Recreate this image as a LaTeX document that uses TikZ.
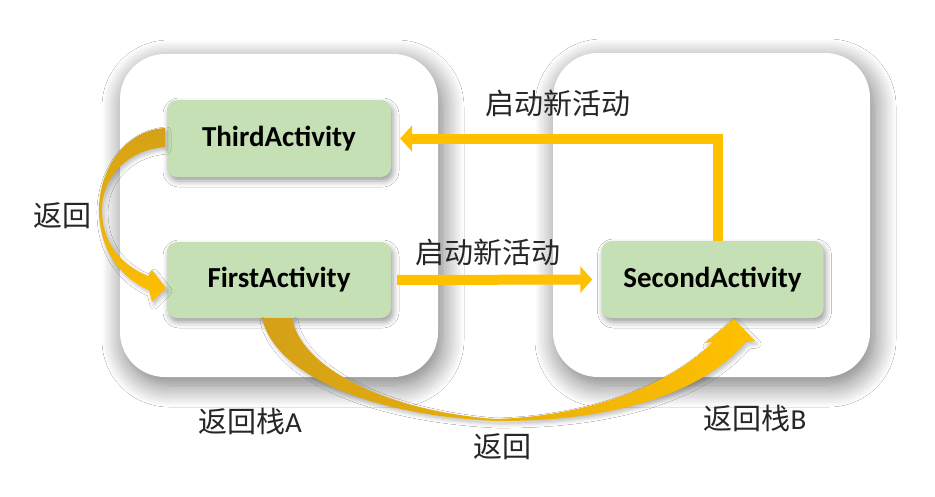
\documentclass[tikz,border=0pt]{standalone}
\usepackage{fontspec}
\setmainfont{Carlito}
\newfontfamily\cjk{Noto Sans CJK SC}
\usetikzlibrary{arrows.meta,shadows.blur}
\definecolor{actgreen}{HTML}{C5E0B4}
\definecolor{arrowyellow}{HTML}{FFC000}
\definecolor{arrowgold}{HTML}{D4A017}
\definecolor{txtgray}{HTML}{262626}
\begin{document}
\begin{tikzpicture}[x=1pt,y=-1pt,
  stackbox/.style={fill=white, rounded corners=45pt, inner sep=0pt,
    blur shadow={shadow xshift=4pt, shadow yshift=-8pt, shadow blur radius=22pt, shadow blur steps=18, shadow opacity=55}},
  actbox/.style={fill=actgreen, rounded corners=10pt, minimum width=224pt, minimum height=77pt, inner sep=0pt,
    font=\bfseries\fontsize{29}{34}\selectfont, text=black,
    blur shadow={shadow xshift=2pt, shadow yshift=-4pt, shadow blur radius=6pt, shadow opacity=40}},
  flowarrow/.style={draw=arrowyellow, line width=10pt, -{Triangle[length=12pt,width=26pt]}},
  curvedarrow/.style={blur shadow={shadow xshift=2pt, shadow yshift=-3pt, shadow blur radius=4pt, shadow opacity=25}},
  cjklabel/.style={font=\cjk\fontsize{29}{33}\selectfont, text=txtgray, inner sep=0pt}
]
\useasboundingbox[fill=white] (0,0) rectangle (935,496);

% stacks
\node[stackbox, minimum width=318pt, minimum height=323pt] (stackA) at (279,215.5) {};
\node[stackbox, minimum width=317pt, minimum height=324pt] (stackB) at (711.5,215) {};

% activities
\node[actbox] (third) at (279,138.5) {ThirdActivity};
\node[actbox, minimum height=76pt] (first) at (279,280) {FirstActivity};
\node[actbox, minimum width=222pt] (second) at (712.5,279.5) {SecondActivity};

% straight arrows
\draw[flowarrow, shorten >=9pt] ([xshift=5.5pt]second.north) |- (third.east);
\draw[flowarrow, shorten <=6pt, shorten >=9pt] (first.east) -- (second.west);

% curved arrow: Third -> First (back)
\shade[curvedarrow, top color=arrowgold, bottom color=arrowyellow]
  (165,128) .. controls (125,130) and (98,170) .. (99,212)
  .. controls (100,255) and (125,280) .. (149,290)
  -- (152,302) -- (166,288) -- (152,270) -- (148,276)
  .. controls (122,265) and (103,245) .. (102,212)
  .. controls (101,180) and (125,150) .. (165,147) -- cycle;

% curved arrow: First -> Second (back)
\shade[curvedarrow, left color=arrowgold, right color=arrowyellow]
  (262,318) .. controls (275,375) and (370,415) .. (495,421)
  .. controls (620,422) and (705,390) .. (746,342)
  -- (755,341) -- (734,319) -- (705,343) -- (713,342)
  .. controls (670,385) and (590,416) .. (495,419)
  .. controls (380,410) and (300,365) .. (292,318) -- cycle;

% labels
\node[cjklabel] (lblTop) at (558,103) {启动新活动};
\node[cjklabel] (lblMid) at (488,252) {启动新活动};
\node[cjklabel] (lblLeft) at (63,216) {返回};
\node[cjklabel] (lblBottom) at (502,447) {返回};
\node[cjklabel] (lblA) at (250,421) {返回栈{\rmfamily A}};
\node[cjklabel] (lblB) at (755,418) {返回栈{\rmfamily B}};
\end{tikzpicture}
\end{document}
